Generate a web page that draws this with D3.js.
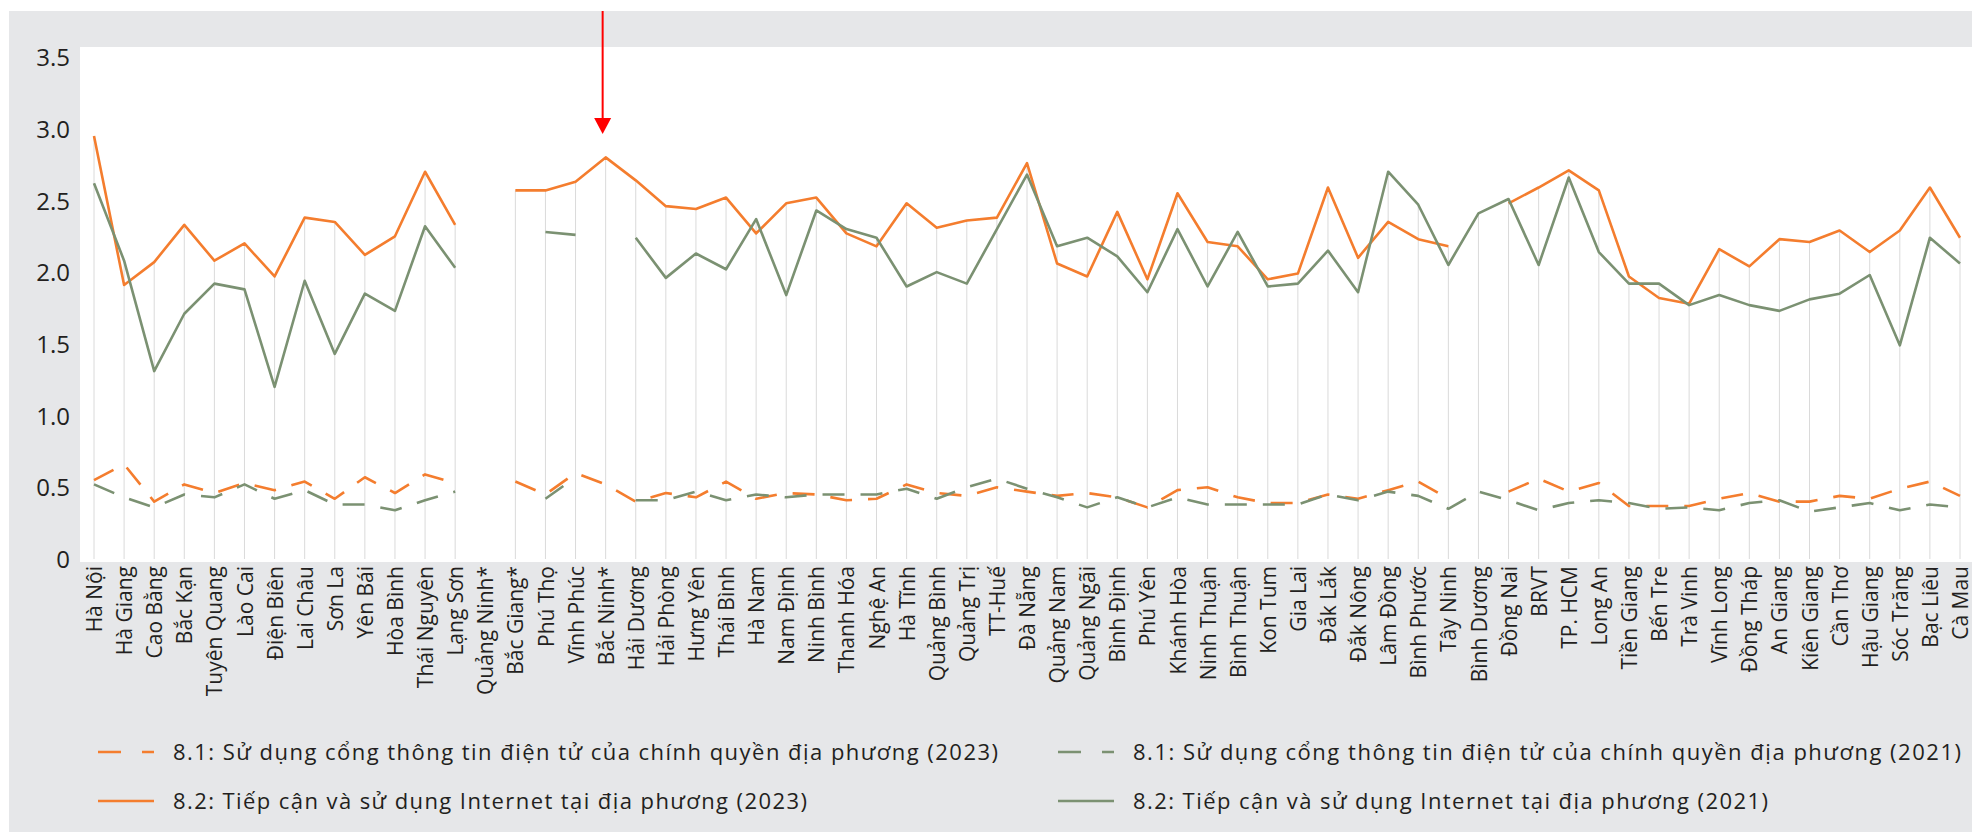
<!DOCTYPE html>
<html>
<head>
<meta charset="utf-8">
<script src="https://cdn.jsdelivr.net/npm/d3@7"></script>
<style>
  html, body { margin: 0; padding: 0; background: #ffffff; }
  svg { display: block; }
  text { font-family: "Open Sans", "Noto Sans", sans-serif; fill: #231F20; }
</style>
</head>
<body>
<svg id="chart" width="1972" height="832"></svg>
<script>
// ---------------- DATA ----------------
const categories = ["Hà Nội","Hà Giang","Cao Bằng","Bắc Kạn","Tuyên Quang","Lào Cai","Điện Biên","Lai Châu","Sơn La","Yên Bái","Hòa Bình","Thái Nguyên","Lạng Sơn","Quảng Ninh*","Bắc Giang*","Phú Thọ","Vĩnh Phúc","Bắc Ninh*","Hải Dương","Hải Phòng","Hưng Yên","Thái Bình","Hà Nam","Nam Định","Ninh Bình","Thanh Hóa","Nghệ An","Hà Tĩnh","Quảng Bình","Quảng Trị","TT-Huế","Đà Nẵng","Quảng Nam","Quảng Ngãi","Bình Định","Phú Yên","Khánh Hòa","Ninh Thuận","Bình Thuận","Kon Tum","Gia Lai","Đắk Lắk","Đắk Nông","Lâm Đồng","Bình Phước","Tây Ninh","Bình Dương","Đồng Nai","BRVT","TP. HCM","Long An","Tiền Giang","Bến Tre","Trà Vinh","Vĩnh Long","Đồng Tháp","An Giang","Kiên Giang","Cần Thơ","Hậu Giang","Sóc Trăng","Bạc Liêu","Cà Mau"];

// 8.1 (2023) dashed orange
const portal2023 = [0.55,0.66,0.40,0.52,0.46,0.53,0.48,0.54,0.42,0.57,0.46,0.59,0.53,null,0.54,0.45,0.60,0.52,0.40,0.46,0.43,0.54,0.42,0.46,0.45,0.41,0.42,0.52,0.46,0.44,0.50,0.47,0.44,0.46,0.43,0.36,0.48,0.50,0.43,0.39,0.39,0.45,0.42,0.48,0.54,0.42,null,0.47,0.56,0.47,0.53,0.37,0.37,0.37,0.42,0.46,0.40,0.40,0.44,0.42,0.49,0.54,0.44];
// 8.1 (2021) dashed green
const portal2021 = [0.52,0.43,0.36,0.45,0.43,0.52,0.42,0.48,0.38,0.38,0.34,0.41,0.47,null,null,0.42,0.57,null,0.41,0.41,0.47,0.41,0.45,0.43,0.45,0.45,0.45,0.49,0.42,0.50,0.56,0.49,0.43,0.36,0.43,0.36,0.43,0.38,0.38,0.38,0.38,0.45,0.41,0.47,0.44,0.35,0.47,0.41,0.34,0.39,0.41,0.39,0.35,0.36,0.34,0.39,0.41,0.33,0.36,0.39,0.34,0.38,0.36];
// 8.2 (2023) solid orange
const internet2023 = [2.95,1.91,2.07,2.33,2.08,2.20,1.97,2.38,2.35,2.12,2.25,2.70,2.33,null,2.57,2.57,2.63,2.80,2.64,2.46,2.44,2.52,2.27,2.48,2.52,2.27,2.18,2.48,2.31,2.36,2.38,2.76,2.06,1.97,2.42,1.95,2.55,2.21,2.18,1.95,1.99,2.59,2.10,2.35,2.23,2.18,null,2.48,2.59,2.71,2.57,1.97,1.82,1.78,2.16,2.04,2.23,2.21,2.29,2.14,2.29,2.59,2.24];
// 8.2 (2021) solid green
const internet2021 = [2.62,2.08,1.31,1.71,1.92,1.88,1.20,1.94,1.43,1.85,1.73,2.32,2.03,null,null,2.28,2.26,null,2.24,1.96,2.13,2.02,2.37,1.84,2.43,2.30,2.24,1.90,2.00,1.92,2.30,2.68,2.18,2.24,2.11,1.86,2.30,1.90,2.28,1.90,1.92,2.15,1.86,2.70,2.47,2.05,2.41,2.51,2.05,2.66,2.14,1.92,1.92,1.77,1.84,1.77,1.73,1.81,1.85,1.98,1.49,2.24,2.06];

const yTicks = [0, 0.5, 1.0, 1.5, 2.0, 2.5, 3.0, 3.5];
const yTickLabels = ["0", "0.5", "1.0", "1.5", "2.0", "2.5", "3.0", "3.5"];

const seriesNames = [
  "8.1: Sử dụng cổng thông tin điện tử của chính quyền địa phương (2023)",
  "8.1: Sử dụng cổng thông tin điện tử của chính quyền địa phương (2021)",
  "8.2: Tiếp cận và sử dụng Internet tại địa phương (2023)",
  "8.2: Tiếp cận và sử dụng Internet tại địa phương (2021)"
];
const highlighted = "Bắc Ninh*";

// ---------------- STYLE / LAYOUT ----------------
const ORANGE = "#F47D2E";
const GREEN = "#7B9172";
const svg = d3.select("#chart");
const W = 1972, H = 832;

svg.append("rect").attr("x", 0).attr("y", 0).attr("width", W).attr("height", H).attr("fill", "#ffffff");
svg.append("rect").attr("x", 9).attr("y", 11).attr("width", W - 9).attr("height", H - 11).attr("fill", "#E6E7E9");
svg.append("rect").attr("x", 80).attr("y", 47).attr("width", W - 80).attr("height", 562 - 47).attr("fill", "#ffffff");

const x = d3.scalePoint().domain(categories).range([94, 1960]);
const y = d3.scaleLinear().domain([0, 3.5]).range([559, 57]);

// drop lines (from highest value to axis)
const allSeries = [portal2023, portal2021, internet2023, internet2021];
const g = svg.append("g");
categories.forEach((c, i) => {
  const vals = allSeries.map(s => s[i]).filter(v => v != null);
  if (!vals.length) return;
  const m = d3.max(vals);
  g.append("line")
    .attr("x1", x(c)).attr("x2", x(c))
    .attr("y1", y(m)).attr("y2", y(0))
    .attr("stroke", "#DADADA").attr("stroke-width", 1);
});

// y axis
const yAxis = d3.axisLeft(y).tickValues(yTicks).tickSize(0).tickPadding(0)
  .tickFormat((d, i) => yTickLabels[i]);
const ya = svg.append("g").attr("transform", "translate(70,0)").call(yAxis);
ya.select(".domain").remove();
ya.selectAll("text").attr("font-size", 24).attr("font-family", "'Open Sans', sans-serif").attr("fill", "#231F20").attr("dy", "0.36em");

// x axis labels
const xAxis = d3.axisBottom(x).tickSize(0).tickPadding(0);
const xa = svg.append("g").attr("transform", "translate(0,566)").call(xAxis);
xa.select(".domain").remove();
xa.selectAll("text")
  .attr("font-size", 21)
  .attr("font-family", "'Open Sans', sans-serif")
  .attr("fill", "#231F20")
  .attr("text-anchor", "end")
  .attr("transform", "rotate(-90)")
  .attr("x", 0).attr("y", 0).attr("dy", "0.36em");

// lines
const lineGen = d3.line()
  .defined(d => d.v != null)
  .x(d => x(d.c))
  .y(d => y(d.v));

function drawSeries(vals, color, dashed) {
  const data = categories.map((c, i) => ({ c, v: vals[i] }));
  svg.append("path")
    .datum(data)
    .attr("d", lineGen)
    .attr("fill", "none")
    .attr("stroke", color)
    .attr("stroke-width", 2.6)
    .attr("stroke-linejoin", "round")
    .attr("stroke-dasharray", dashed ? "22,16" : null);
}
drawSeries(portal2023, ORANGE, true);
drawSeries(portal2021, GREEN, true);
drawSeries(internet2023, ORANGE, false);
drawSeries(internet2021, GREEN, false);

// red arrow annotation
const ax = x(highlighted) - 3;
svg.append("line").attr("x1", ax).attr("x2", ax).attr("y1", 11).attr("y2", 120)
  .attr("stroke", "#FF0000").attr("stroke-width", 2);
svg.append("path")
  .attr("d", `M${ax - 8.5},118 L${ax + 8.5},118 L${ax},134 Z`)
  .attr("fill", "#FF0000");

// legend
const legendItems = [
  { name: seriesNames[0], color: ORANGE, dashed: true,  lx: 98,   tx: 173,  y: 752, len: 825 },
  { name: seriesNames[1], color: GREEN,  dashed: true,  lx: 1058, tx: 1133, y: 752, len: 828 },
  { name: seriesNames[2], color: ORANGE, dashed: false, lx: 98,   tx: 173,  y: 801, len: 634 },
  { name: seriesNames[3], color: GREEN,  dashed: false, lx: 1058, tx: 1133, y: 801, len: 635 }
];
const lg = svg.append("g");
legendItems.forEach(it => {
  lg.append("line")
    .attr("x1", it.lx).attr("x2", it.lx + 56)
    .attr("y1", it.y).attr("y2", it.y)
    .attr("stroke", it.color).attr("stroke-width", 2.6)
    .attr("stroke-dasharray", it.dashed ? "23,21" : null);
  lg.append("text")
    .attr("x", it.tx).attr("y", it.y).attr("dy", "0.35em")
    .attr("font-size", 22)
    .attr("textLength", it.len)
    .attr("lengthAdjust", "spacing")
    .text(it.name);
});
</script>
</body>
</html>
